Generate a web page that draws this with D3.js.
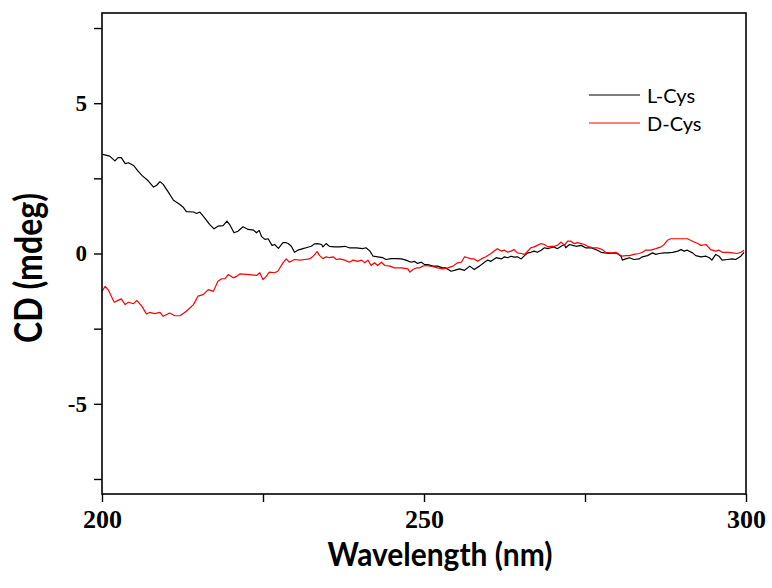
<!DOCTYPE html>
<html>
<head>
<meta charset="utf-8">
<script src="https://cdnjs.cloudflare.com/ajax/libs/d3/7.8.5/d3.min.js"></script>
<style>
	body { margin: 0; background: #fff; }
	svg { display: block; }
</style>
</head>
<body>
<div id="chart"></div>
<script>
// spectra (wavelength in nm, CD in mdeg)
var lCysWavelength = [200.1,201.2,202.0,202.5,203.0,203.6,204.1,204.9,205.6,206.2,207.2,208.0,208.5,209.0,209.5,210.3,211.1,212.1,212.6,213.1,214.2,214.7,215.2,216.0,216.7,217.4,218.0,218.8,219.4,219.8,220.5,221.1,221.9,222.7,223.5,224.0,224.4,224.8,225.3,225.8,226.4,226.8,227.4,228.1,228.6,228.9,229.4,229.9,230.4,231.2,231.7,232.5,233.0,233.5,234.1,234.3,234.8,235.3,236.1,236.9,237.7,238.4,239.5,240.5,241.0,241.6,242.1,242.8,243.6,244.1,244.9,245.7,246.5,247.2,248.0,248.5,249.0,249.6,250.1,250.6,251.4,252.1,252.9,253.4,254.2,254.7,255.5,256.3,257.1,257.8,258.6,259.4,259.9,260.4,261.2,262.0,262.5,263.0,263.5,264.0,264.5,265.1,265.6,266.1,266.6,267.1,267.6,268.2,268.7,269.2,269.7,270.2,270.7,271.3,271.8,272.0,272.6,273.1,273.6,274.4,275.1,275.9,276.7,277.5,278.0,278.8,279.5,280.0,280.6,280.8,281.3,281.9,282.6,283.4,283.9,284.7,285.5,286.0,286.5,287.3,287.8,288.6,289.4,289.9,290.4,290.9,291.7,292.2,293.0,293.8,294.3,294.7,295.3,295.8,296.3,297.1,297.9,298.4,299.2,299.7];
var lCysValues = [3.30,3.24,3.08,3.19,3.19,2.99,3.02,2.93,2.74,2.60,2.41,2.21,2.27,2.39,2.30,2.04,1.77,1.63,1.54,1.39,1.38,1.33,1.38,1.17,0.97,0.82,0.91,0.93,1.08,0.97,0.69,0.74,0.89,0.80,0.78,0.69,0.77,0.56,0.47,0.49,0.27,0.30,0.17,0.36,0.36,0.33,0.24,0.04,0.11,0.16,0.19,0.24,0.32,0.33,0.30,0.22,0.33,0.24,0.22,0.22,0.24,0.19,0.19,0.16,0.19,0.08,-0.09,-0.11,-0.14,-0.20,-0.17,-0.17,-0.18,-0.22,-0.29,-0.26,-0.33,-0.29,-0.37,-0.37,-0.42,-0.42,-0.48,-0.48,-0.59,-0.56,-0.51,-0.56,-0.42,-0.53,-0.42,-0.29,-0.22,-0.26,-0.14,-0.18,-0.11,-0.14,-0.09,-0.12,-0.11,-0.18,-0.07,0.02,0.04,0.08,0.04,0.11,0.19,0.16,0.19,0.22,0.16,0.24,0.30,0.19,0.30,0.27,0.24,0.27,0.19,0.19,0.13,0.04,0.02,0.00,0.02,0.00,-0.09,-0.22,-0.18,-0.14,-0.20,-0.18,-0.11,-0.07,0.02,-0.03,0.00,0.02,0.02,0.04,0.08,0.13,0.08,0.11,0.02,-0.07,-0.11,-0.09,-0.14,-0.22,-0.03,-0.09,-0.22,-0.20,-0.18,-0.20,-0.09,0.04];

var dCysWavelength = [200.0,200.5,201.0,201.9,202.5,203.0,203.6,204.1,204.9,205.4,206.2,206.9,207.4,208.2,209.0,209.5,210.5,211.3,212.1,213.1,214.2,214.9,215.7,216.5,217.3,218.0,218.6,219.1,219.6,220.4,220.9,221.4,222.9,224.0,224.5,225.0,225.5,226.0,226.8,227.3,228.1,228.6,229.1,229.9,230.7,231.5,232.2,232.8,233.4,233.8,234.3,234.8,235.3,235.9,236.4,236.9,237.7,238.4,239.0,239.7,240.3,240.8,241.3,241.8,242.3,242.8,243.4,243.9,244.7,245.4,246.5,247.5,247.8,248.3,248.8,249.3,249.8,250.3,251.4,252.1,252.9,253.7,254.5,255.2,255.8,256.3,256.8,257.3,257.8,258.3,258.9,259.6,260.4,260.9,261.4,262.0,262.5,263.0,263.5,264.0,264.5,265.1,265.6,266.1,266.6,267.1,267.6,268.2,268.7,269.2,269.7,270.2,270.7,271.3,271.8,272.3,272.8,273.3,273.8,274.4,274.9,275.4,276.2,276.9,277.7,278.2,279.0,279.8,280.3,280.8,281.3,281.9,282.6,283.4,283.9,284.4,285.2,286.0,286.8,287.3,287.8,288.3,289.4,290.9,291.7,292.5,293.0,293.8,294.5,295.3,295.8,296.3,297.1,297.9,298.6,299.2,299.7];
var dCysValues = [-1.26,-1.09,-1.22,-1.62,-1.56,-1.51,-1.70,-1.62,-1.67,-1.56,-1.76,-2.01,-1.96,-2.00,-1.96,-2.09,-1.98,-2.07,-2.07,-1.92,-1.70,-1.42,-1.37,-1.20,-1.26,-0.92,-0.84,-0.84,-0.70,-0.81,-0.76,-0.68,-0.70,-0.73,-0.64,-0.87,-0.76,-0.62,-0.64,-0.59,-0.31,-0.18,-0.29,-0.20,-0.22,-0.20,-0.18,-0.09,0.06,-0.07,-0.17,-0.11,-0.14,-0.11,-0.20,-0.18,-0.22,-0.29,-0.22,-0.26,-0.22,-0.31,-0.22,-0.40,-0.31,-0.40,-0.29,-0.40,-0.42,-0.48,-0.48,-0.51,-0.62,-0.53,-0.48,-0.48,-0.42,-0.40,-0.44,-0.48,-0.51,-0.48,-0.42,-0.31,-0.29,-0.11,-0.14,-0.18,-0.18,-0.26,-0.18,-0.11,0.00,0.08,0.16,0.08,0.11,0.04,0.08,0.13,0.02,0.00,-0.03,0.08,0.19,0.22,0.27,0.33,0.30,0.22,0.24,0.24,0.27,0.38,0.27,0.41,0.41,0.33,0.36,0.33,0.30,0.24,0.19,0.19,0.13,0.04,0.02,0.04,-0.03,-0.09,-0.07,-0.07,-0.03,0.00,0.04,0.11,0.11,0.16,0.22,0.30,0.44,0.49,0.49,0.49,0.41,0.33,0.27,0.30,0.13,0.08,0.11,0.04,0.04,0.02,0.00,0.04,0.11];

var seriesNames = ["L-Cys", "D-Cys"],
	seriesColors = ["#000000", "#ff0000"];

var xTickValues = [200, 225, 250, 275, 300],
	yTickValues = [-7.5, -5, -2.5, 0, 2.5, 5, 7.5];

// layout (plot box edges in px)
var w = 772,
	h = 588,
	boxLeft = 102,
	boxRight = 746,
	boxTop = 13,
	boxBottom = 494;

var svg = d3.select("#chart").append("svg")
	.attr("width", w)
	.attr("height", h);

var x = d3.scaleLinear().domain([200, 300]).range([boxLeft, boxRight]);
var y = d3.scaleLinear().domain([-8, 8]).range([boxBottom, boxTop]);

var series = [
	{ name: seriesNames[0], color: seriesColors[0], data: lCysWavelength.map(function(d, i) { return [d, lCysValues[i]]; }) },
	{ name: seriesNames[1], color: seriesColors[1], data: dCysWavelength.map(function(d, i) { return [d, dCysValues[i]]; }) }
];

var line = d3.line()
	.x(function(d) { return x(d[0]); })
	.y(function(d) { return y(d[1]); });

// data lines
svg.selectAll("path.spec")
	.data(series)
	.enter()
	.append("path")
	.attr("class", "spec")
	.attr("fill", "none")
	.attr("stroke", function(d) { return d.color; })
	.attr("stroke-width", 1.2)
	.attr("stroke-linejoin", "round")
	.attr("d", function(d) { return line(d.data); });

// axes
var xAxis = svg.append("g")
	.attr("transform", "translate(0," + boxBottom + ")")
	.call(d3.axisBottom(x).tickValues(xTickValues).tickSize(8).tickFormat(function(d) {
		return d % 50 == 0 ? d : "";
	}));

var yAxis = svg.append("g")
	.attr("transform", "translate(" + boxLeft + ",0)")
	.call(d3.axisLeft(y).tickValues(yTickValues).tickSize(8).tickPadding(7).tickFormat(function(d) {
		return d % 5 == 0 ? d : "";
	}));

[xAxis, yAxis].forEach(function(a) {
	a.select(".domain").remove();
	a.selectAll(".tick line").attr("stroke", "#000").attr("stroke-width", 1.4);
	a.selectAll("text")
		.attr("fill", "#000")
		.style("font-family", "'Liberation Serif', 'Times New Roman', serif")
		.style("font-weight", "bold");
});
xAxis.selectAll("text").style("font-size", "26px").attr("dy", null).attr("y", 34);
yAxis.selectAll("text").style("font-size", "23px");

// frame
svg.append("rect")
	.attr("x", boxLeft)
	.attr("y", boxTop)
	.attr("width", boxRight - boxLeft)
	.attr("height", boxBottom - boxTop)
	.attr("fill", "none")
	.attr("stroke", "#000")
	.attr("stroke-width", 1.6);

// axis titles
svg.append("text")
	.attr("x", 440)
	.attr("y", 566)
	.attr("text-anchor", "middle")
	.attr("textLength", 225)
	.attr("lengthAdjust", "spacingAndGlyphs")
	.style("font-family", "Lato, 'Open Sans', sans-serif")
	.style("font-weight", "bold")
	.style("font-size", "32px")
	.text("Wavelength (nm)");

svg.append("text")
	.attr("transform", "translate(42,268) rotate(-90)")
	.attr("text-anchor", "middle")
	.attr("textLength", 150)
	.attr("lengthAdjust", "spacingAndGlyphs")
	.style("font-family", "Lato, 'Open Sans', sans-serif")
	.style("font-weight", "bold")
	.style("font-size", "38px")
	.text("CD (mdeg)");

// legend
var legend = svg.selectAll("g.legend")
	.data(series)
	.enter()
	.append("g")
	.attr("class", "legend")
	.attr("transform", function(d, i) { return "translate(589," + (95 + i * 28) + ")"; });

legend.append("line")
	.attr("x1", 0)
	.attr("x2", 51)
	.attr("stroke", function(d) { return d.color; })
	.attr("stroke-width", 1.2);

legend.append("text")
	.attr("x", 58)
	.attr("y", 8)
	.style("font-family", "Lato, 'Open Sans', sans-serif")
	.style("font-size", "20px")
	.text(function(d) { return d.name; });
</script>
</body>
</html>
